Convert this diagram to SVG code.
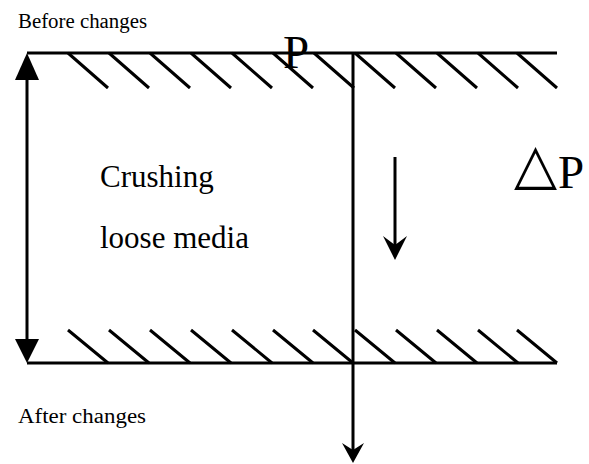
<svg xmlns="http://www.w3.org/2000/svg" width="589" height="464" viewBox="0 0 589 464">
<style>
.ln{stroke:#000;stroke-width:3;fill:none}
.ht{stroke:#000;stroke-width:3;fill:none}
.t{font-family:"Liberation Serif","DejaVu Serif",serif;fill:#000}
</style>
<rect width="589" height="464" fill="#fff"/>
<g id="walls">
<line class="ln" x1="27" y1="53" x2="557" y2="53"/>
<line class="ln" x1="27" y1="363" x2="557" y2="363"/>
<g id="hatch-top">
<path class="ht" d="M68,53l40,35M109,53l40,35M150,53l40,35M191,53l40,35M232,53l40,35M273,53l40,35M314,53l40,35M355,53l40,35M396,53l40,35M437,53l40,35M478,53l40,35M517,53l40,35"/>
</g>
<g id="hatch-bottom">
<path class="ht" d="M68,330l40,33M109,330l40,33M150,330l40,33M191,330l40,33M232,330l40,33M273,330l40,33M313,330l40,33M355,330l40,33M396,330l40,33M437,330l40,33M478,330l40,33M517,330l40,33"/>
</g>
</g>
<g id="connectors">
<line class="ln" x1="27" y1="78" x2="27" y2="340"/>
<polygon points="27,53 15,80 39,80" fill="#000"/>
<polygon points="27,363 15,339 39,339" fill="#000"/>
<line class="ln" x1="353" y1="53" x2="353" y2="458"/>
<polygon points="353,463 342,443 353,450 364,443" fill="#000"/>
<line class="ln" x1="395" y1="157" x2="395" y2="254"/>
<polygon points="395,260 383,236 395,245 407,236" fill="#000"/>
</g>
<g id="labels">
<text class="t" x="18" y="28" font-size="20" textLength="129" lengthAdjust="spacingAndGlyphs">Before changes</text>
<text class="t" x="18" y="423" font-size="20" textLength="128" lengthAdjust="spacingAndGlyphs">After changes</text>
<text class="t" x="283" y="68" font-size="47">P</text>
<text class="t" x="100" y="187" font-size="31">Crushing</text>
<text class="t" x="100" y="248" font-size="31">loose media</text>
<text class="t"><tspan x="514" y="183" font-size="56">△</tspan><tspan x="558" y="188" font-size="47">P</tspan></text>
</g>
</svg>
